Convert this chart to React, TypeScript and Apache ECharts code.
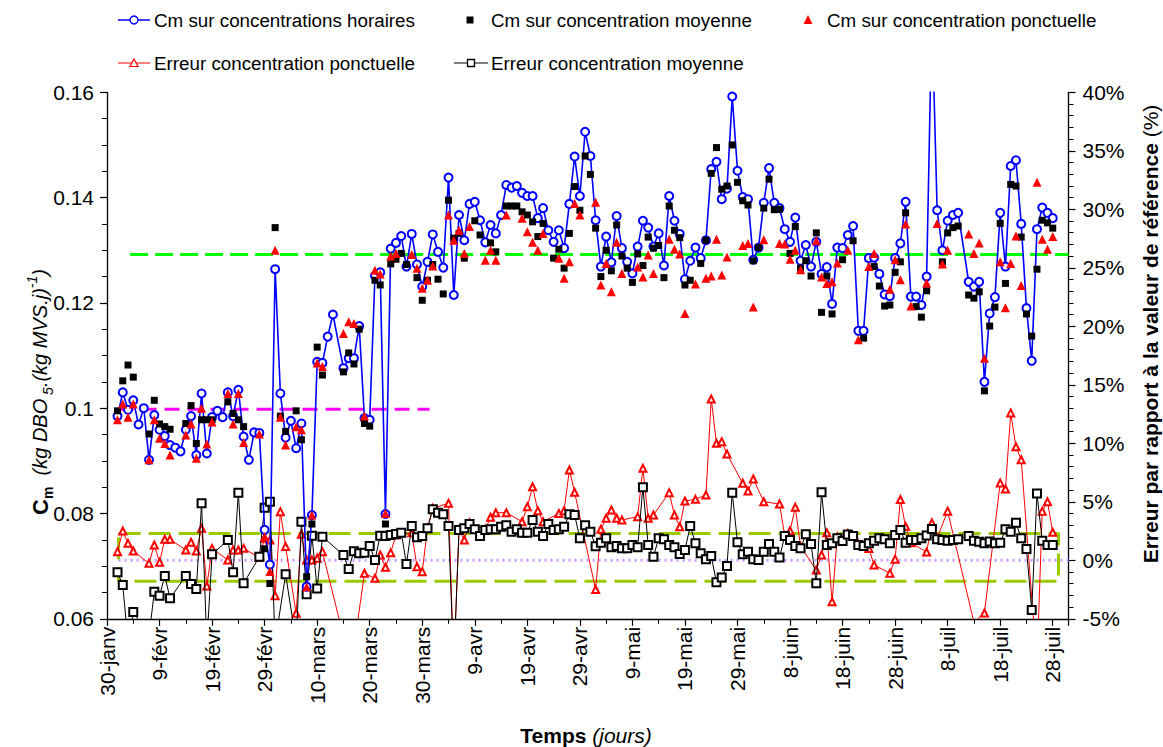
import React, { useEffect, useRef } from 'react';
import * as echarts from 'echarts';

const FONT = '"Liberation Sans", Arial, Helvetica, sans-serif';

// x = days since 30-janv (2008)
const TICK_LABELS = ['30-janv', '9-févr', '19-févr', '29-févr', '10-mars', '20-mars', '30-mars', '9-avr', '19-avr', '29-avr', '9-mai', '19-mai', '29-mai', '8-juin', '18-juin', '28-juin', '8-juil', '18-juil', '28-juil'];

const CM_HORAIRES: [number, number][] = [
  [2, 0.0985], [3, 0.1030], [4, 0.0997], [5, 0.1015], [6, 0.0969], [7, 0.1000], [8, 0.0902], [9, 0.0987], [10, 0.0959],
  [11, 0.0947], [12, 0.0930], [13, 0.0925], [14, 0.0918], [15, 0.0959], [16, 0.0985], [17, 0.0911], [18, 0.1028], [19, 0.0914],
  [20, 0.0983], [21, 0.0995], [22, 0.0983], [23, 0.1030], [24, 0.0985], [25, 0.1035], [26, 0.0946], [27, 0.0902], [28, 0.0954],
  [29, 0.0953], [30, 0.0769], [31, 0.0703], [32, 0.1264], [33, 0.1028], [34, 0.0944], [35, 0.0976], [36, 0.0924], [37, 0.0971],
  [38, 0.0661], [39, 0.0797], [40, 0.1088], [41, 0.1086], [42, 0.1136], [43, 0.1178], [45, 0.1076], [46, 0.1095], [47, 0.1095],
  [48, 0.1156], [49, 0.0981], [50, 0.0978], [51, 0.1252], [52, 0.1258], [53, 0.0799], [54, 0.1303], [55, 0.1314], [56, 0.1327],
  [57, 0.1269], [58, 0.1331], [59, 0.1273], [60, 0.1231], [61, 0.1278], [62, 0.1330], [63, 0.1297], [64, 0.1267], [65, 0.1438],
  [66, 0.1215], [67, 0.1367], [68, 0.1319], [69, 0.1388], [70, 0.1392], [71, 0.1357], [72, 0.1315], [73, 0.1348], [74, 0.1332],
  [75, 0.1367], [76, 0.1424], [77, 0.1419], [78, 0.1422], [79, 0.1409], [80, 0.1403], [81, 0.1403], [82, 0.1361], [83, 0.1380],
  [84, 0.1338], [85, 0.1316], [86, 0.1338], [87, 0.1304], [88, 0.1388], [89, 0.1478], [90, 0.1403], [91, 0.1525], [92, 0.1479],
  [93, 0.1357], [94, 0.1269], [95, 0.1326], [96, 0.1277], [97, 0.1365], [98, 0.1304], [99, 0.1278], [100, 0.1256], [101, 0.1307],
  [102, 0.1356], [103, 0.1343], [104, 0.1307], [105, 0.1332], [106, 0.1271], [107, 0.1403], [108, 0.1356], [109, 0.1331],
  [110, 0.1245], [111, 0.1280], [112, 0.1305], [113, 0.1285], [114, 0.1319], [115, 0.1454], [116, 0.1468], [117, 0.1397],
  [118, 0.1417], [119, 0.1592], [120, 0.1451], [121, 0.1401], [122, 0.1397], [123, 0.1282], [124, 0.1305], [125, 0.1390],
  [126, 0.1456], [127, 0.1390], [128, 0.1380], [129, 0.1340], [130, 0.1316], [131, 0.1362], [132, 0.1280], [133, 0.1310],
  [134, 0.1269], [135, 0.1316], [136, 0.1255], [137, 0.1268], [138, 0.1198], [139, 0.1305], [140, 0.1304], [141, 0.1329],
  [142, 0.1346], [143, 0.1147], [144, 0.1147], [145, 0.1285], [146, 0.1286], [147, 0.1255], [148, 0.1216], [149, 0.1213],
  [150, 0.1285], [151, 0.1313], [152, 0.1392], [153, 0.1212], [154, 0.1212], [155, 0.1196], [156, 0.1250], [157, 0.1750],
  [158, 0.1376], [159, 0.1300], [160, 0.1356], [161, 0.1367], [162, 0.1371], [164, 0.1240], [165, 0.1231], [166, 0.1240],
  [167, 0.1050], [168, 0.1180], [169, 0.1211], [170, 0.1371], [171, 0.1269], [172, 0.1460], [173, 0.1471], [174, 0.1350],
  [175, 0.1190], [176, 0.1090], [177, 0.1340], [178, 0.1381], [179, 0.1371], [180, 0.1361],
];

const CM_MOYENNE: [number, number][] = [
  [2, 0.0995], [3, 0.1052], [4, 0.1082], [5, 0.1059], [8, 0.0951], [9, 0.1015], [10, 0.0970], [11, 0.0965], [12, 0.0960],
  [15, 0.0971], [16, 0.1005], [17, 0.0933], [18, 0.0978], [19, 0.0978], [20, 0.0978], [23, 0.1012], [24, 0.0990], [25, 0.0978],
  [26, 0.0965], [30, 0.0733], [31, 0.0667], [32, 0.1343], [33, 0.0985], [34, 0.0956], [36, 0.0995], [37, 0.0940], [38, 0.0680],
  [39, 0.0780], [40, 0.1116], [41, 0.1063], [45, 0.1069], [46, 0.1105], [47, 0.1084], [48, 0.1150], [49, 0.0971], [50, 0.0966],
  [51, 0.1243], [52, 0.1234], [53, 0.0780], [54, 0.1274], [55, 0.1283], [56, 0.1294], [57, 0.1273], [59, 0.1248], [60, 0.1205],
  [61, 0.1243], [62, 0.1273], [63, 0.1245], [64, 0.1217], [65, 0.1395], [66, 0.1323], [67, 0.1332], [68, 0.1285], [70, 0.1356],
  [71, 0.1329], [73, 0.1314], [74, 0.1297], [76, 0.1384], [77, 0.1384], [78, 0.1384], [79, 0.1373], [80, 0.1367], [81, 0.1354],
  [82, 0.1326], [83, 0.1351], [85, 0.1285], [86, 0.1302], [87, 0.1266], [88, 0.1332], [89, 0.1421], [90, 0.1376], [91, 0.1479],
  [92, 0.1444], [93, 0.1342], [94, 0.1250], [95, 0.1300], [96, 0.1261], [97, 0.1348], [98, 0.1289], [99, 0.1266], [100, 0.1239],
  [101, 0.1293], [102, 0.1271], [103, 0.1325], [104, 0.1304], [105, 0.1309], [106, 0.1248], [107, 0.1384], [108, 0.1338],
  [109, 0.1324], [110, 0.1234], [111, 0.1243], [113, 0.1275], [114, 0.1319], [115, 0.1446], [116, 0.1495], [117, 0.1416],
  [118, 0.1422], [119, 0.1500], [120, 0.1429], [121, 0.1394], [122, 0.1386], [123, 0.1280], [124, 0.1305], [125, 0.1380],
  [126, 0.1435], [127, 0.1377], [128, 0.1378], [130, 0.1294], [131, 0.1345], [132, 0.1266], [133, 0.1280], [134, 0.1251],
  [135, 0.1333], [136, 0.1182], [137, 0.1251], [138, 0.1179], [140, 0.1282], [142, 0.1318], [144, 0.1133], [146, 0.1269],
  [147, 0.1232], [148, 0.1194], [149, 0.1196], [150, 0.1258], [151, 0.1278], [152, 0.1371], [154, 0.1193], [155, 0.1173],
  [156, 0.1223], [159, 0.1278], [160, 0.1333], [161, 0.1343], [162, 0.1346], [164, 0.1215], [165, 0.1209], [166, 0.1221],
  [167, 0.1033], [168, 0.1156], [169, 0.1192], [170, 0.1351], [171, 0.1237], [172, 0.1425], [173, 0.1422], [174, 0.1325],
  [175, 0.1179], [176, 0.1137], [177, 0.1264], [178, 0.1357], [179, 0.1352], [180, 0.1342],
];

const CM_PONCTUELLE: [number, number][] = [
  [2, 0.0978], [3, 0.1008], [4, 0.0983], [5, 0.1008], [8, 0.0902], [9, 0.0978], [10, 0.0943], [11, 0.0933], [12, 0.0911],
  [15, 0.0949], [16, 0.0970], [17, 0.0905], [18, 0.1000], [19, 0.0932], [20, 0.0974], [23, 0.1028], [24, 0.0970], [25, 0.1028],
  [26, 0.0935], [29, 0.0951], [30, 0.0756], [31, 0.0690], [32, 0.1300], [33, 0.0983], [34, 0.0930], [36, 0.0965], [37, 0.0959],
  [38, 0.0661], [39, 0.0797], [40, 0.1086], [41, 0.1079], [45, 0.1142], [46, 0.1164], [47, 0.1161], [49, 0.0985], [51, 0.1262],
  [52, 0.1255], [53, 0.0800], [54, 0.1289], [55, 0.1294], [58, 0.1292], [59, 0.1266], [60, 0.1228], [61, 0.1243], [62, 0.1270],
  [65, 0.1367], [66, 0.1319], [67, 0.1338], [68, 0.1294], [69, 0.1345], [72, 0.1281], [73, 0.1300], [74, 0.1281], [76, 0.1367],
  [79, 0.1361], [80, 0.1335], [81, 0.1315], [82, 0.1300], [83, 0.1332], [86, 0.1285], [87, 0.1247], [88, 0.1278], [89, 0.1389],
  [90, 0.1367], [93, 0.1391], [94, 0.1234], [95, 0.1275], [96, 0.1221], [97, 0.1315], [98, 0.1256], [101, 0.1268], [102, 0.1249],
  [103, 0.1291], [104, 0.1256], [107, 0.1321], [108, 0.1302], [109, 0.1293], [110, 0.1180], [112, 0.1236], [114, 0.1247],
  [115, 0.1251], [116, 0.1321], [117, 0.1253], [118, 0.1287], [121, 0.1309], [122, 0.1313], [123, 0.1192], [125, 0.1320],
  [128, 0.1313], [129, 0.1312], [130, 0.1283], [131, 0.1300], [132, 0.1263], [135, 0.1318], [136, 0.1249], [137, 0.1237],
  [138, 0.1240], [139, 0.1276], [141, 0.1300], [143, 0.1130], [145, 0.1269], [146, 0.1294], [149, 0.1226], [150, 0.1282],
  [151, 0.1244], [152, 0.1350], [153, 0.1194], [156, 0.1238], [158, 0.1351], [159, 0.1274], [160, 0.1300], [164, 0.1331],
  [165, 0.1294], [166, 0.1314], [167, 0.1095], [170, 0.1278], [171, 0.1191], [172, 0.1275], [173, 0.1327], [174, 0.1233],
  [177, 0.1429], [178, 0.1321], [179, 0.1302], [180, 0.1326],
];

const ERR_PONCTUELLE: [number, number][] = [
  [2, 0.74], [3, 2.50], [4, 1.45], [5, 0.79], [8, -0.26], [9, 1.31], [10, -0.17], [11, 1.79], [12, 1.79], [15, 0.88], [16, 1.54],
  [17, 0.79], [18, 2.73], [19, -2.2], [20, 1.02], [23, 0.03], [24, 0.88], [25, 0.88], [26, 1.02], [29, 0.23], [30, 1.88],
  [31, 1.73], [32, -3.02], [33, 4.16], [34, 1.17], [36, -4.53], [37, 2.22], [38, 0.03], [39, 0.03], [40, 0.17], [41, 0.74],
  [45, -6.5], [47, -7.5], [49, -1.11], [51, -1.54], [52, 0.45], [53, -0.6], [54, 0.65], [55, 2.16], [58, 2.35], [59, -0.55],
  [60, -0.97], [61, 2.73], [62, 4.44], [65, 4.87], [66, -9], [67, 2.65], [68, 1.73], [69, 3.22], [72, 2.65], [73, 3.67],
  [74, 4.07], [76, 4.07], [79, 3.30], [80, 4.58], [81, 6.29], [82, 4.24], [83, 3.30], [86, 4.01], [87, 4.24], [88, 7.72],
  [89, 5.81], [93, -2.5], [94, 2.65], [95, 3.59], [96, 4.3], [97, 3.59], [98, 3.45], [101, 3.73], [102, 7.86], [103, 3.59],
  [104, 3.87], [107, 5.78], [108, 3.87], [109, 2.87], [110, 5.07], [112, 5.21], [114, 5.58], [115, 13.79], [116, 10.0],
  [117, 10.14], [118, 9.09], [121, 6.58], [122, 5.92], [123, 6.95], [125, 5.01], [128, 4.81], [129, 2.08], [130, 2.53],
  [131, 4.53], [132, 1.17], [135, -0.83], [136, 0.45], [137, 2.36], [138, -3.54], [139, 2.02], [141, 2.3], [143, 1.4],
  [145, 1.0], [146, -0.4], [149, -1.1], [150, 0.1], [151, 5.2], [152, 2.9], [153, 1.5], [156, 0.7], [157, 3.2], [158, 1.9],
  [160, 4.2], [165, -5.3], [167, -4.5], [170, 6.6], [171, 6.1], [172, 12.6], [173, 9.7], [174, 8.6], [177, -9], [178, 4.2],
  [179, 5.0], [180, 2.4],
];

const ERR_MOYENNE: [number, number][] = [
  [2, -1.03], [3, -2.11], [4, -7], [5, -4.42], [8, -6.5], [9, -2.68], [10, -3.02], [11, -1.34], [12, -3.25], [15, -1.34],
  [16, -2.03], [17, -2.45], [18, 4.87], [19, -7], [20, 0.51], [23, 1.73], [24, -1.03], [25, 5.78], [26, -1.97], [29, 0.3],
  [30, 4.5], [31, 5.01], [32, -7], [34, -1.2], [36, -7], [37, 3.3], [38, -2.91], [39, 2.1], [40, -2.4], [41, 2.02], [45, 0.45],
  [46, -0.75], [47, 0.78], [48, 0.6], [49, 0.65], [50, 1.22], [51, 0.03], [52, 2.1], [53, 2.08], [54, 2.16], [55, 2.25],
  [56, 2.36], [57, -0.32], [58, 2.93], [59, 1.96], [60, 2.08], [61, 2.73], [62, 4.36], [63, 4.07], [64, 3.93], [65, 2.93],
  [66, -9], [67, 2.59], [68, 2.73], [69, 3.1], [70, 2.65], [71, 2.08], [72, 2.59], [73, 2.65], [74, 2.65], [75, 2.87], [76, 3.0],
  [77, 2.45], [78, 2.65], [79, 2.36], [80, 2.36], [81, 3.45], [82, 2.45], [83, 2.08], [84, 3.1], [85, 2.59], [86, 2.65],
  [87, 2.87], [88, 3.93], [89, 3.87], [90, 1.88], [91, 3.0], [92, 2.45], [93, 1.2], [94, 1.5], [95, 1.88], [96, 1.11],
  [97, 1.22], [98, 1.02], [99, 1.02], [100, 1.31], [101, 1.11], [102, 6.24], [103, 1.31], [104, 0.31], [105, 1.88], [106, 1.79],
  [107, 1.31], [108, 1.11], [109, 0.54], [110, 0.88], [111, 2.93], [112, 1.45], [113, 0.6], [114, 0.08], [115, 0.37],
  [116, -1.88], [117, -1.46], [118, -0.49], [119, 5.78], [120, 1.54], [121, 0.51], [122, 0.74], [123, 0.08], [124, 0.03],
  [125, 0.74], [126, 1.39], [127, 0.74], [128, 0.23], [129, 2.08], [130, 1.73], [131, 1.22], [132, 1.02], [133, 2.22],
  [134, 1.39], [135, -1.97], [136, 5.81], [137, 1.31], [138, 1.45], [139, 1.88], [140, 1.65], [141, 2.2], [142, 2.08],
  [143, 1.31], [144, 1.22], [145, 1.45], [146, 1.68], [147, 1.88], [148, 1.79], [149, 1.45], [150, 2.16], [151, 2.59],
  [152, 1.5], [153, 1.73], [154, 1.73], [155, 1.88], [156, 2.11], [157, 2.68], [158, 1.79], [159, 1.73], [160, 1.68],
  [161, 1.73], [162, 1.79], [164, 2.08], [165, 1.68], [166, 1.59], [167, 1.45], [168, 1.6], [169, 1.45], [170, 1.5],
  [171, 2.65], [172, 2.45], [173, 3.22], [174, 1.88], [175, 0.97], [176, -4.25], [177, 5.72], [178, 1.68], [179, 1.31],
  [180, 1.31],
];

// reference levels
const REF_MOYENNE_GLOBALE = 0.1292; // green dashed
const REF_MOYENNE_HIVER = 0.0998; // magenta dashed
const REF_ZERO = 0; // dotted lavender (%)
const BAND_HAUT = 2.3; // %
const BAND_BAS = -1.8; // %

const X_MIN = 0;
const X_MAX = 183;

export default function App() {
  const ref = useRef<HTMLDivElement>(null);

  useEffect(() => {
    if (!ref.current) return;
    const chart = echarts.init(ref.current, null, { renderer: 'svg' });

    const axisText = { color: '#000', fontSize: 21, fontFamily: FONT };
    const refLine = (data: number[][], color: string, dash: number[] | string, width: number, yAxisIndex = 0) => ({
      type: 'line',
      data,
      yAxisIndex,
      symbol: 'none',
      silent: true,
      z: 1,
      lineStyle: { color, width, type: dash },
    });

    const legendY1 = 20;
    const legendY2 = 63;
    const legText = (x: number, y: number, text: string) => ({
      type: 'text',
      x,
      y,
      style: { text, fill: '#000', fontSize: 18.8, fontFamily: FONT, align: 'left', verticalAlign: 'middle' },
    });

    const option: any = {
      animation: false,
      backgroundColor: '#ffffff',
      grid: { left: 107, right: 94.5, top: 92.3, bottom: 128.2, containLabel: false },
      xAxis: {
        type: 'value',
        min: X_MIN,
        max: X_MAX,
        interval: 10,
        axisLine: { show: true, onZero: false, lineStyle: { color: '#000', width: 1.3 } },
        axisTick: { show: true, length: 7, lineStyle: { color: '#000', width: 1.2 } },
        minorTick: { show: true, splitNumber: 2, length: 5, lineStyle: { color: '#000', width: 1 } },
        splitLine: { show: false },
        axisLabel: {
          ...axisText,
          rotate: 90,
          margin: 8,
          showMaxLabel: false,
          formatter: (v: number) => {
            const i = Math.round(v / 10);
            return Math.abs(v - i * 10) < 1e-6 && i < TICK_LABELS.length ? TICK_LABELS[i] : '';
          },
        },
      },
      yAxis: [
        {
          type: 'value',
          min: 0.06,
          max: 0.16,
          interval: 0.02,
          axisLine: { show: true, lineStyle: { color: '#000', width: 1.3 } },
          axisTick: { show: true, length: 7, lineStyle: { color: '#000', width: 1.2 } },
          minorTick: { show: true, splitNumber: 4, length: 5, lineStyle: { color: '#000', width: 1 } },
          splitLine: { show: false },
          axisLabel: { ...axisText, margin: 13, formatter: (v: number) => String(Math.round(v * 1000) / 1000) },
        },
        {
          type: 'value',
          position: 'right',
          min: -5,
          max: 40,
          interval: 5,
          axisLine: { show: true, lineStyle: { color: '#000', width: 1.3 } },
          axisTick: { show: true, length: 7, lineStyle: { color: '#000', width: 1.2 } },
          minorTick: { show: true, splitNumber: 5, length: 5, lineStyle: { color: '#000', width: 1 } },
          splitLine: { show: false },
          axisLabel: { ...axisText, margin: 14, formatter: '{value}%' },
        },
      ],
      series: [
        refLine([[4.4, REF_MOYENNE_GLOBALE], [X_MAX, REF_MOYENNE_GLOBALE]], '#00ff00', [18, 7], 3),
        refLine([[2.2, REF_MOYENNE_HIVER], [61.4, REF_MOYENNE_HIVER]], '#ff00ff', [15, 8], 3),
        refLine([[2.2, REF_ZERO], [X_MAX, REF_ZERO]], '#cc99ff', [2, 4], 3, 1),
        refLine(
          [[2.2, BAND_HAUT], [181.1, BAND_HAUT], [181.1, BAND_BAS], [2.2, BAND_BAS], [2.2, BAND_HAUT]],
          '#99cc00', [22, 8], 3, 1,
        ),
        {
          name: 'Erreur concentration ponctuelle',
          type: 'line',
          yAxisIndex: 1,
          data: ERR_PONCTUELLE,
          symbol: 'emptyTriangle',
          symbolSize: 7,
          z: 3,
          lineStyle: { color: '#ff0000', width: 1 },
          itemStyle: { color: '#ff0000', borderColor: '#ff0000', borderWidth: 1.2 },
        },
        {
          name: 'Erreur concentration moyenne',
          type: 'line',
          yAxisIndex: 1,
          data: ERR_MOYENNE,
          symbol: 'emptyRect',
          symbolSize: 8,
          z: 4,
          lineStyle: { color: '#000', width: 1 },
          itemStyle: { color: '#000', borderColor: '#000', borderWidth: 1.3 },
        },
        {
          name: 'Cm sur concentrations horaires',
          type: 'line',
          data: CM_HORAIRES,
          symbol: 'emptyCircle',
          symbolSize: 8,
          z: 5,
          lineStyle: { color: '#0000ff', width: 1.6 },
          itemStyle: { color: '#0000ff', borderColor: '#0000ff', borderWidth: 1.4 },
        },
        {
          name: 'Cm sur concentration moyenne',
          type: 'scatter',
          data: CM_MOYENNE,
          symbol: 'rect',
          symbolSize: 7,
          z: 6,
          itemStyle: { color: '#000', opacity: 1 },
        },
        {
          name: 'Cm sur concentration ponctuelle',
          type: 'scatter',
          data: CM_PONCTUELLE,
          symbol: 'triangle',
          symbolSize: 9,
          z: 7,
          itemStyle: { color: '#ff0000', opacity: 1 },
        },
      ],
      graphic: [
        // legend row 1
        { type: 'line', shape: { x1: 118, y1: legendY1, x2: 150, y2: legendY1 }, style: { stroke: '#0000ff', lineWidth: 1.5 } },
        { type: 'circle', shape: { cx: 134, cy: legendY1, r: 4 }, style: { fill: '#fff', stroke: '#0000ff', lineWidth: 1.4 } },
        legText(154, legendY1, 'Cm sur concentrations horaires'),
        { type: 'rect', shape: { x: 466.5, y: legendY1 - 3.5, width: 7, height: 7 }, style: { fill: '#000' } },
        legText(491, legendY1, 'Cm sur concentration moyenne'),
        { type: 'polygon', shape: { points: [[808, legendY1 - 5], [812.5, legendY1 + 4], [803.5, legendY1 + 4]] }, style: { fill: '#ff0000' } },
        legText(827, legendY1, 'Cm sur concentration ponctuelle'),
        // legend row 2
        { type: 'line', shape: { x1: 118, y1: legendY2, x2: 150, y2: legendY2 }, style: { stroke: '#ff0000', lineWidth: 1 } },
        { type: 'polygon', shape: { points: [[134, legendY2 - 4], [138, legendY2 + 3.5], [130, legendY2 + 3.5]] }, style: { fill: '#fff', stroke: '#ff0000', lineWidth: 1.2 } },
        legText(154, legendY2, 'Erreur concentration ponctuelle'),
        { type: 'line', shape: { x1: 454, y1: legendY2, x2: 488, y2: legendY2 }, style: { stroke: '#000', lineWidth: 1 } },
        { type: 'rect', shape: { x: 467.5, y: legendY2 - 3.5, width: 7, height: 7 }, style: { fill: '#fff', stroke: '#000', lineWidth: 1.3 } },
        legText(491, legendY2, 'Erreur concentration moyenne'),
        // left axis title
        {
          type: 'text',
          x: 40,
          y: 392,
          rotation: Math.PI / 2,
          style: {
            text: '{b|C}{bs|m}{n|  }{i|(kg DBO}{is| 5}{i|.(kg MVS.j)}{isup|-1}{i|)}',
            align: 'center',
            verticalAlign: 'middle',
            rich: {
              b: { fontSize: 22, fontWeight: 'bold', fontFamily: FONT, fill: '#000', lineHeight: 30 },
              bs: { fontSize: 14, fontWeight: 'bold', fontFamily: FONT, fill: '#000', lineHeight: 14, verticalAlign: 'bottom' },
              n: { fontSize: 20, fontFamily: FONT, fill: '#000', lineHeight: 30 },
              i: { fontSize: 20, fontStyle: 'italic', fontFamily: FONT, fill: '#000', lineHeight: 30 },
              is: { fontSize: 14, fontStyle: 'italic', fontFamily: FONT, fill: '#000', lineHeight: 14, verticalAlign: 'bottom' },
              isup: { fontSize: 14, fontStyle: 'italic', fontFamily: FONT, fill: '#000', lineHeight: 14, verticalAlign: 'top' },
            },
          },
        },
        // right axis title
        {
          type: 'text',
          x: 1150,
          y: 334,
          rotation: Math.PI / 2,
          style: {
            text: '{b|Erreur par rapport à la valeur de référence }{n|(%)}',
            align: 'center',
            verticalAlign: 'middle',
            rich: {
              b: { fontSize: 21, fontWeight: 'bold', fontFamily: FONT, fill: '#000' },
              n: { fontSize: 21, fontFamily: FONT, fill: '#000' },
            },
          },
        },
        // x axis title
        {
          type: 'text',
          x: 586,
          y: 735,
          style: {
            text: '{b|Temps }{i|(jours)}',
            align: 'center',
            verticalAlign: 'middle',
            rich: {
              b: { fontSize: 21, fontWeight: 'bold', fontFamily: FONT, fill: '#000' },
              i: { fontSize: 21, fontStyle: 'italic', fontFamily: FONT, fill: '#000' },
            },
          },
        },
      ],
    };

    chart.setOption(option);
    return () => chart.dispose();
  }, []);

  return (
    <div
      ref={ref}
      style={{ position: 'fixed', left: 0, top: 0, width: 1163, height: 747, background: '#fff' }}
    />
  );
}
